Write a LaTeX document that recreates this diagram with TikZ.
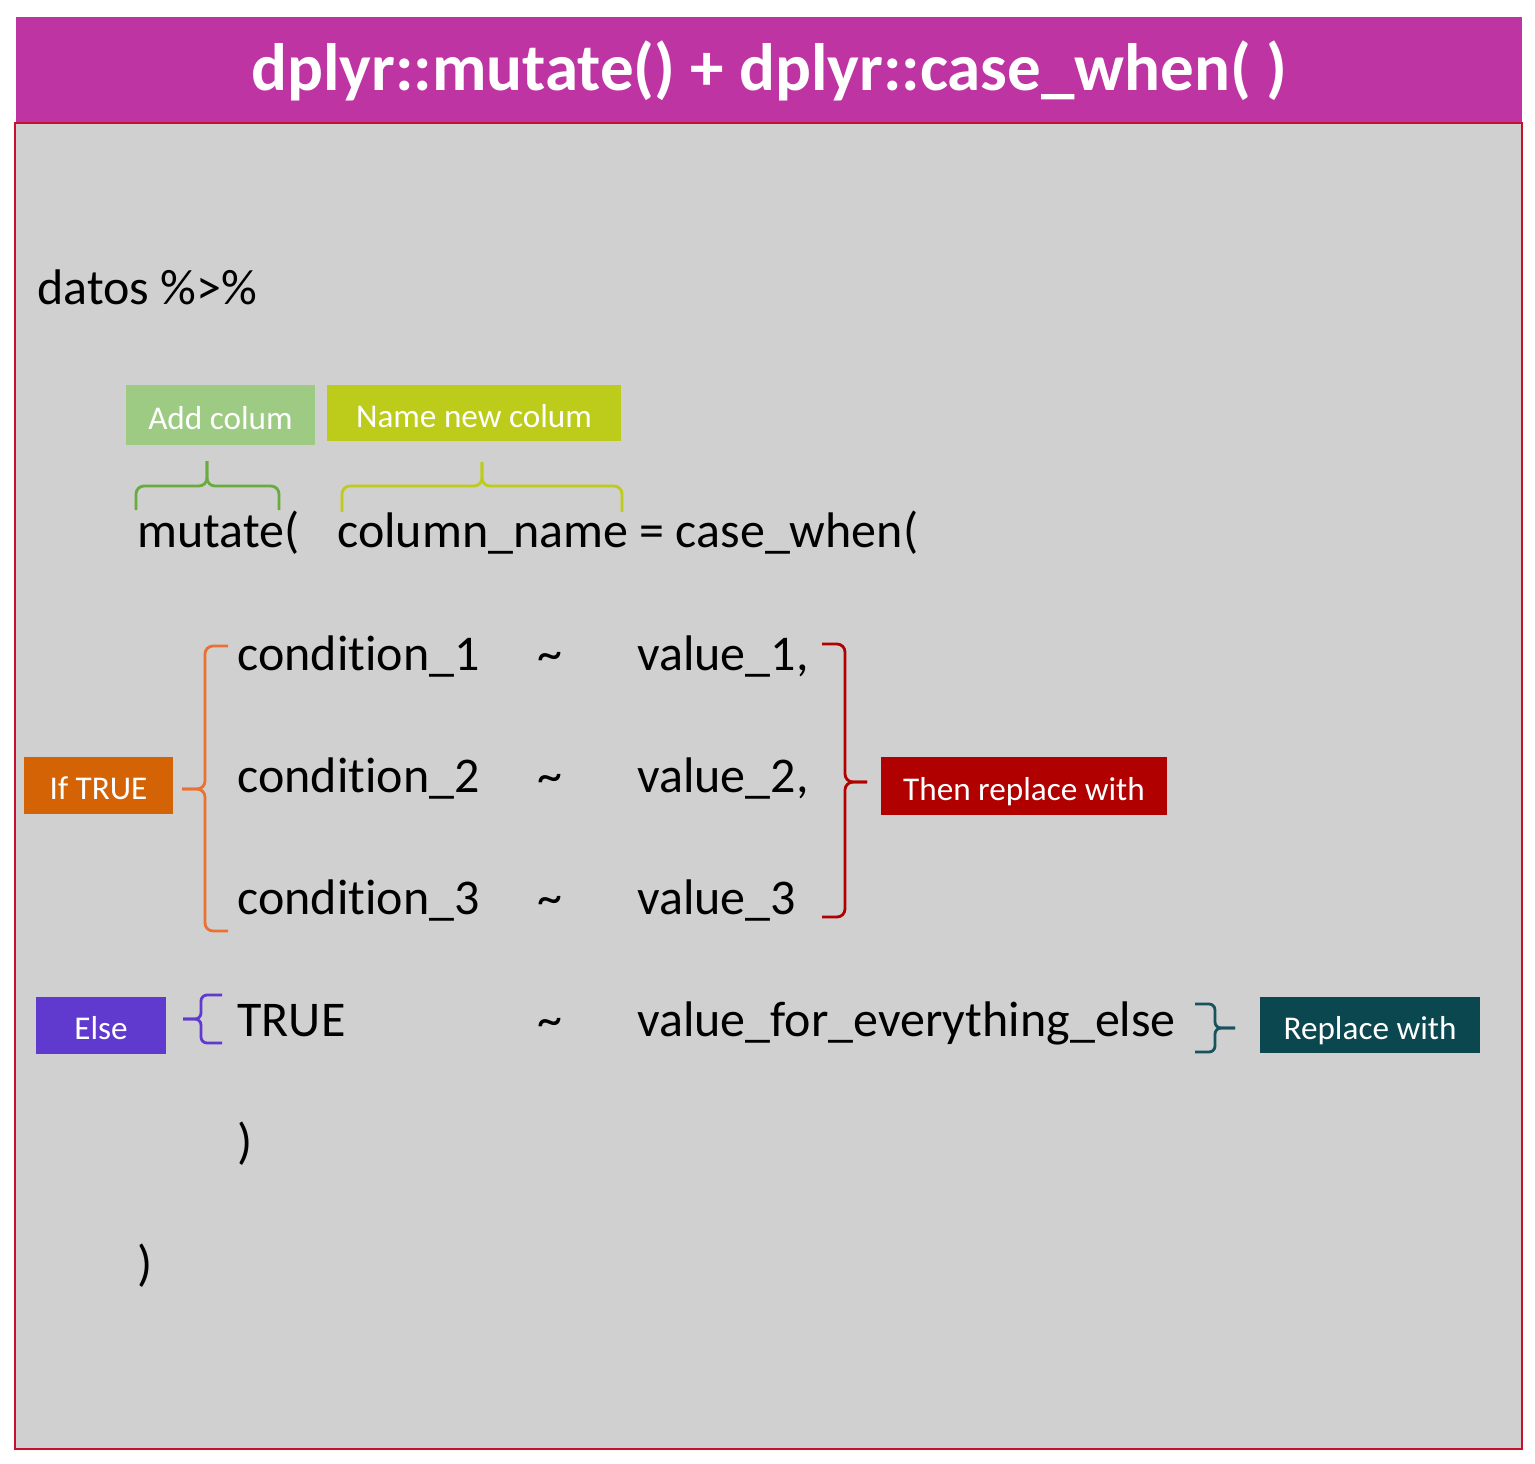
\documentclass[tikz,border=0pt]{standalone}
\usepackage{fontspec}
\setmainfont{Carlito}[Ligatures=NoCommon]
\usetikzlibrary{positioning}
\definecolor{cwmagenta}{HTML}{BF34A3}
\definecolor{cwpanel}{HTML}{D0D0D0}
\definecolor{cwframe}{HTML}{C8102E}
\definecolor{cwgreen}{HTML}{9DCB83}
\definecolor{cwgreenln}{HTML}{6AAB3E}
\definecolor{cwlime}{HTML}{BDCC1A}
\definecolor{cworange}{HTML}{D46306}
\definecolor{cworangeln}{HTML}{EA7131}
\definecolor{cwred}{HTML}{B10000}
\definecolor{cwviolet}{HTML}{6039CF}
\definecolor{cwteal}{HTML}{0B474F}
\definecolor{cwtealln}{HTML}{17535C}
\tikzset{
  code/.style={anchor=base west, inner sep=0pt, font=\fontsize{25}{30}\selectfont},
  tag/.style={inner sep=0pt, text=white, text height=15pt, text depth=1pt, font=\fontsize{16.6}{19}\selectfont},
  brc/.style={line width=1.4pt, rounded corners=4pt},
}
\begin{document}
\begin{tikzpicture}[x=0.5pt,y=-0.5pt]
  \useasboundingbox (0,0) rectangle (1535,1463);
  % title bar and panel
  \fill[cwmagenta] (16,17) rectangle (1522,123);
  \filldraw[fill=cwpanel, draw=cwframe, line width=0.6pt] (15,123) rectangle (1522,1449);
  \node[text=white, font=\fontsize{33.5}{38}\bfseries] (title) at (769,71) {dplyr::mutate() + dplyr::case\_when( )};

  % code lines
  \node[code] (datos) at (37,304) {datos \%>\%};
  \node[code] (mut) at (137,547) {mutate(};
  \node[code] (col) at (337,547) {column\_name = case\_when(};
  \foreach \n/\y in {1/670,2/792,3/914} {
    \node[code] (c\n) at (237,\y) {condition\_\n};
    \node[code] (t\n) at (537,\y) {\textasciitilde};
  }
  \node[code] (v1) at (637,670) {value\_1,};
  \node[code] (v2) at (637,792) {value\_2,};
  \node[code] (v3) at (637,914) {value\_3};
  \node[code] (tr) at (237,1036) {TRUE};
  \node[code] (t4) at (537,1036) {\textasciitilde};
  \node[code] (ve) at (637,1036) {value\_for\_everything\_else};
  \node[code] (p1) at (237,1158) {)};
  \node[code] (p2) at (137,1280) {)};

  % labels
  \node[tag, fill=cwgreen, minimum width=94.5pt, minimum height=30pt] (add) at (220.5,415) {Add colum};
  \node[tag, fill=cwlime, minimum width=147pt, minimum height=28pt] (name) at (474,413) {Name new colum};
  \node[tag, fill=cworange, minimum width=74.5pt, minimum height=28.5pt] (iftrue) at (98.5,785.5) {If TRUE};
  \node[tag, fill=cwred, minimum width=143pt, minimum height=29pt] (then) at (1024,786) {Then replace with};
  \node[tag, fill=cwviolet, minimum width=65pt, minimum height=28.5pt] (else) at (101,1025.5) {Else};
  \node[tag, fill=cwteal, minimum width=110pt, minimum height=28pt] (repl) at (1370,1025) {Replace with};

  % braces
  \draw[brc, cwgreenln] (136,510) |- (207,486) -- (207,461);
  \draw[brc, cwgreenln] (279,510) |- (207,486) -- (207,461);
  \draw[brc, cwlime] (342,512) |- (482,486) -- (482,462);
  \draw[brc, cwlime] (622,512) |- (482,486) -- (482,462);
  \draw[brc, cworangeln] (228,646) -| (205,789) -- (182,789);
  \draw[brc, cworangeln] (228,931) -| (205,789) -- (182,789);
  \draw[brc, cwred] (822,644) -| (845,782) -- (867,782);
  \draw[brc, cwred] (822,917) -| (845,782) -- (867,782);
  \draw[brc, cwviolet, rounded corners=3pt] (222,995) -| (201,1019) -- (183,1019);
  \draw[brc, cwviolet, rounded corners=3pt] (222,1043) -| (201,1019) -- (183,1019);
  \draw[brc, cwtealln, rounded corners=3pt] (1195,1004) -| (1215,1028) -- (1235,1028);
  \draw[brc, cwtealln, rounded corners=3pt] (1195,1052) -| (1215,1028) -- (1235,1028);
\end{tikzpicture}
\end{document}
